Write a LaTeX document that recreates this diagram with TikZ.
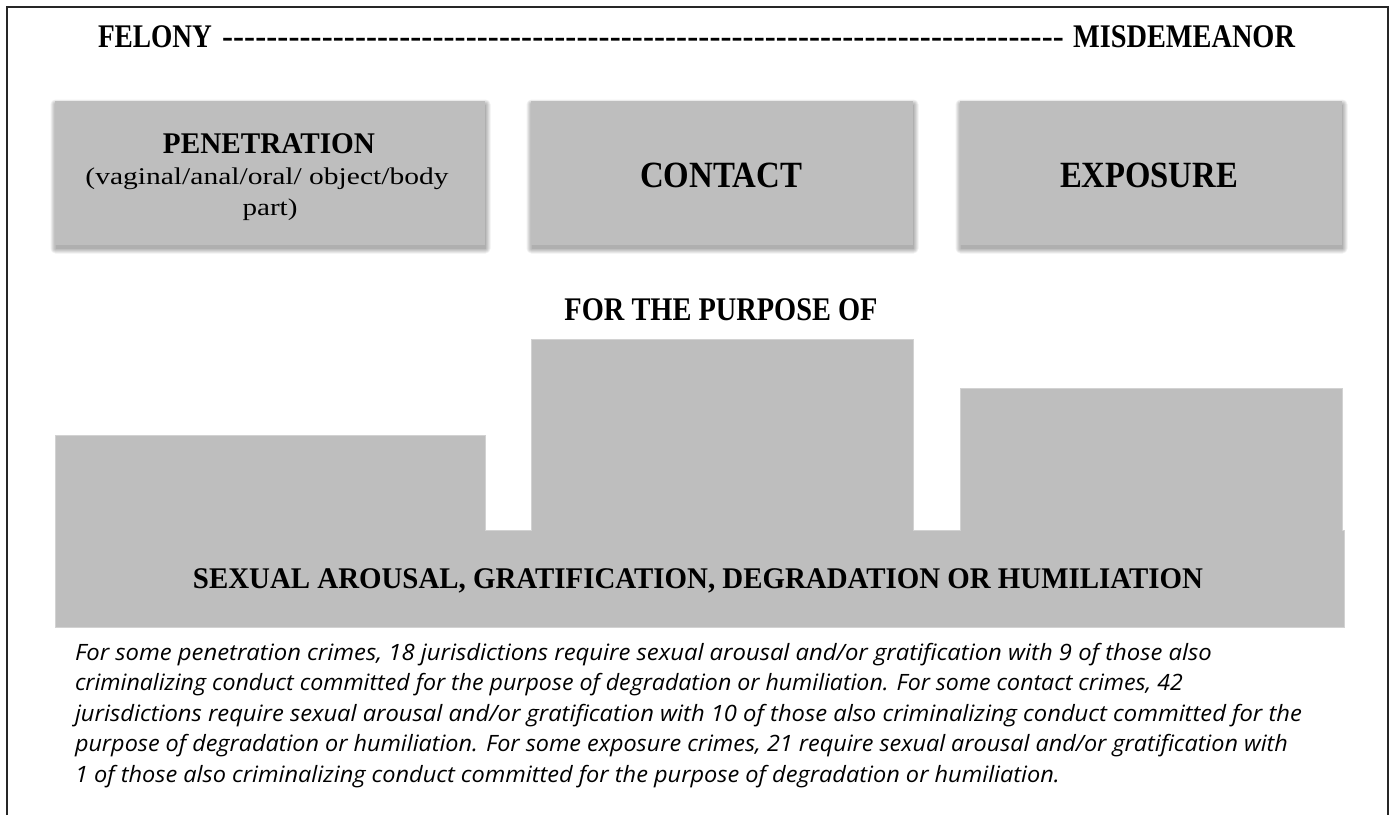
\documentclass[tikz,border=0pt]{standalone}
\usepackage{fontspec}
\usepackage{graphicx}
\setmainfont{Liberation Serif}
\newfontfamily\notefont{Open Sans}
\usetikzlibrary{backgrounds}
\definecolor{boxgray}{HTML}{BEBEBE}
\definecolor{edgegray}{HTML}{D2D2D2}
% scale a text horizontally to a given width, keeping its height
\newcommand\fitw[2]{\resizebox{#1}{\height}{#2}}

\begin{document}
\begin{tikzpicture}[x=1pt,y=-1pt,
  panel/.style={fill=boxgray, draw=none, inner sep=0pt, outer sep=0pt, anchor=north west},
  bar/.style={panel, draw=edgegray, line width=0.8pt},
  label/.style={inner sep=0pt, outer sep=0pt, anchor=base},
  headA/.style={label, font=\fontsize{33}{36}\selectfont\bfseries},
  headB/.style={label, font=\fontsize{30}{34}\selectfont\bfseries},
  headC/.style={label, font=\fontsize{37}{40}\selectfont\bfseries},
  sub/.style={label, font=\fontsize{24}{28}\selectfont},
  note/.style={inner sep=0pt, outer sep=0pt, anchor=base west,
    font=\notefont\itshape\fontsize{22.5}{30}\selectfont},
]
\useasboundingbox (0,0) rectangle (1392,815);

% outer frame, open at the bottom
\coordinate (fbl) at (7,815);
\coordinate (ftl) at (7,7);
\coordinate (ftr) at (1388,7);
\coordinate (fbr) at (1388,815);
\draw[line width=1.6pt, black!85] (fbl) -- (ftl) -- (ftr) -- (fbr);

% scale heading
\node[headA] (felony) at (155,47) {\fitw{114pt}{FELONY}};
\node[headA, anchor=base west] (dashes) at (222,47) {\hbox to 842pt{\xleaders\hbox{-}\hfill}};
\node[headA] (misd) at (1184,47) {\fitw{222pt}{MISDEMEANOR}};

% three offence categories
\node[panel, minimum width=430, minimum height=144] (pen) at (55,101) {};
\node[panel, minimum width=382, minimum height=144] (con) at (531,101) {};
\node[panel, minimum width=382, minimum height=144] (exp) at (960,101) {};

% paper and soft shadows behind the category boxes
\begin{scope}[on background layer]
  \fill[white] (0,0) rectangle (1392,815);
  \foreach \b in {pen,con,exp}
    \foreach \e in {5,4,3,2,1,0}
      \fill[black, opacity=0.06, rounded corners=\e pt]
        ([shift={(0.5-\e,3.5-\e)}]\b.north west) rectangle ([shift={(0.5+\e,3.5+\e)}]\b.south east);
\end{scope}

\node[headB] (penT) at (269,153) {\fitw{212pt}{PENETRATION}};
\node[sub] (penS1) at (267,184) {\fitw{363pt}{(vaginal/anal/oral/ object/body}};
\node[sub] (penS2) at (270,215) {\fitw{55pt}{part)}};
\node[headC] (conT) at (721,187) {\fitw{162pt}{CONTACT}};
\node[headC] (expT) at (1149,187) {\fitw{178pt}{EXPOSURE}};

\node[headA] (purpose) at (721,320) {\fitw{313pt}{FOR THE PURPOSE OF}};

% purpose bars rising from the common band
\node[bar, minimum width=430, minimum height=96] (barP) at (55,435) {};
\node[bar, minimum width=382, minimum height=192] (barC) at (531,339) {};
\node[bar, minimum width=382, minimum height=143] (barE) at (960,388) {};
\node[bar, minimum width=1289, minimum height=97] (band) at (55,530) {};
\fill[boxgray] (barP.south west) ++(0.5,-1.5) rectangle ([shift={(-0.5,2)}]barP.south east);
\fill[boxgray] (barC.south west) ++(0.5,-1.5) rectangle ([shift={(-0.5,2)}]barC.south east);
\fill[boxgray] (barE.south west) ++(0.5,-1.5) rectangle ([shift={(-0.5,2)}]barE.south east);
\node[headB] (bandT) at (698,588) {\fitw{1010pt}{SEXUAL AROUSAL, GRATIFICATION, DEGRADATION OR HUMILIATION}};

% explanatory note
\node[note] (n1) at (75,660) {\fitw{1137pt}{For some penetration crimes, 18 jurisdictions require sexual arousal and/or gratification with 9 of those also}};
\node[note] (n2) at (75,690.5) {\fitw{1108pt}{criminalizing conduct committed for the purpose of degradation or humiliation. For some contact crimes, 42}};
\node[note] (n3) at (75,721) {\fitw{1227pt}{jurisdictions require sexual arousal and/or gratification with 10 of those also criminalizing conduct committed for the}};
\node[note] (n4) at (75,751.5) {\fitw{1213pt}{purpose of degradation or humiliation. For some exposure crimes, 21 require sexual arousal and/or gratification with}};
\node[note] (n5) at (75,782) {\fitw{985pt}{1 of those also criminalizing conduct committed for the purpose of degradation or humiliation.}};
\end{tikzpicture}
\end{document}
